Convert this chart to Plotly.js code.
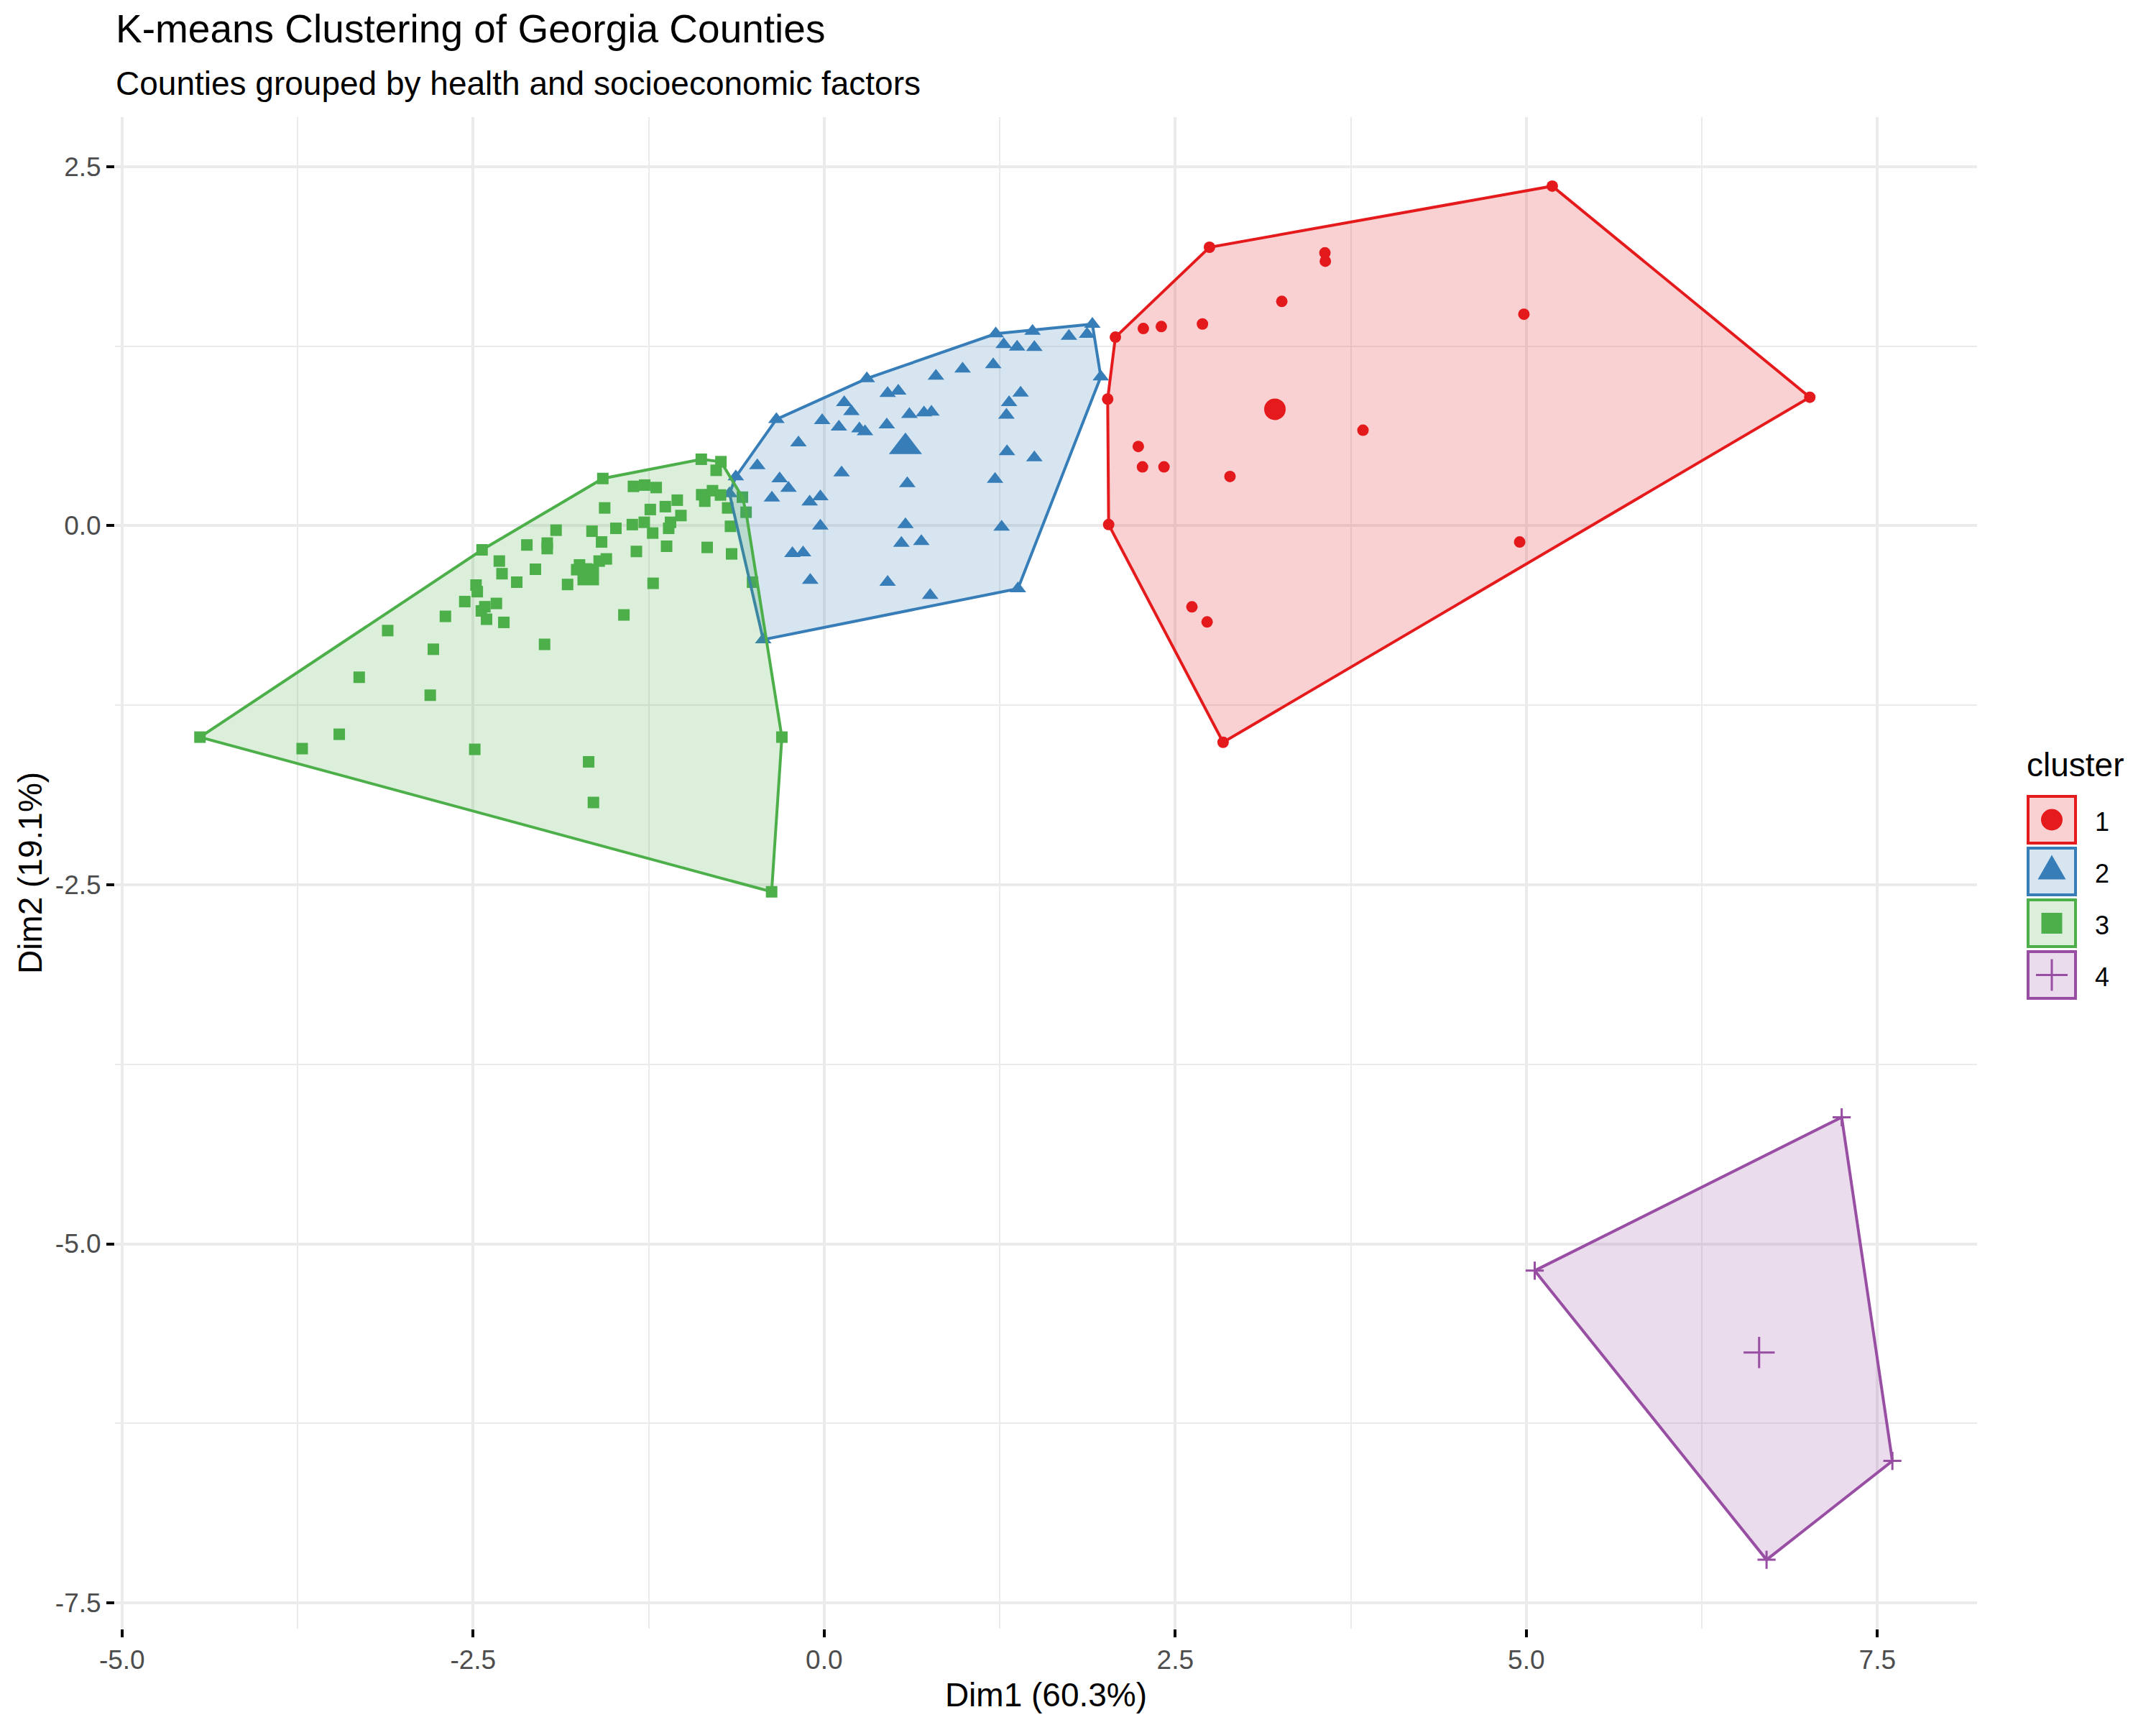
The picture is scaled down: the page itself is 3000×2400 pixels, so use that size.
<!DOCTYPE html>
<html>
<head>
<meta charset="utf-8">
<script src="https://cdn.plot.ly/plotly-3.0.1.min.js"></script>
<style>html,body{margin:0;padding:0;background:#fff}</style>
</head>
<body>
<div id="chart" style="width:3000px;height:2400px"></div>
<script>
// ---------------- DATA ----------------
const clusterNames = ["1", "2", "3", "4"];
const clusterColors = ["#E41A1C", "#377EB8", "#4DAF4A", "#984EA3"];
const clusterFills = ["rgba(228,26,28,0.2)", "rgba(55,126,184,0.2)", "rgba(77,175,74,0.2)", "rgba(152,78,163,0.2)"];

const c1x = [5.185, 2.744, 2.074, 2.019, 2.026, 2.841, 7.019, 3.566, 3.569, 3.259, 4.983, 2.273, 2.401, 2.694, 3.837, 2.237, 2.267, 2.420, 2.890, 4.953, 2.619, 2.727];
const c1y = [2.365, 1.939, 1.313, 0.882, 0.008, -1.508, 0.895, 1.900, 1.842, 1.562, 1.473, 1.373, 1.387, 1.405, 0.665, 0.552, 0.410, 0.410, 0.343, -0.113, -0.565, -0.670];

const c2x = [-0.629, -0.340, 0.304, 1.222, 1.484, 1.910, 1.970, 1.380, -0.434, -0.674,
             1.743, 1.872, 1.279, 1.374, 1.497, 1.204, 0.986, 0.796, 1.399, 1.317,
             1.298, 0.452, 0.528, 0.143, 0.194, -0.014, 0.105, 0.251, 0.291, 0.446,
             0.607, 0.711, 0.764, -0.183, -0.476, -0.317, -0.254, -0.372, -0.103, -0.027,
             0.124, 0.592, 1.302, 1.497, 1.217, -0.027, 0.579, 1.264, 0.550, 0.692,
             -0.226, -0.150, -0.099, 0.452, 0.755];
const c2y = [0.341, 0.741, 1.025, 1.337, 1.355, 1.404, 1.037, -0.438, -0.793, 0.224,
             1.320, 1.334, 1.262, 1.245, 1.242, 1.122, 1.092, 1.042, 0.925, 0.858,
             0.770, 0.922, 0.938, 0.858, 0.795, 0.733, 0.688, 0.675, 0.655, 0.703,
             0.775, 0.787, 0.792, 0.578, 0.419, 0.328, 0.261, 0.194, 0.166, 0.203,
             0.369, 0.294, 0.516, 0.474, 0.324, -0.001, 0.008, -0.009, -0.121, -0.109,
             -0.193, -0.188, -0.379, -0.393, -0.484];

const c3x = [-2.436, -1.576, -0.875, -0.735, -0.769, -1.358, -1.278, -1.196, -1.563, -1.238,
             -1.131, -1.046, -1.020, -1.094, -1.107, -1.221, -1.366, -1.281, -1.483, -1.653,
             -1.585, -1.909, -2.117, -1.972, -1.972, -2.313, -2.294, -2.056, -2.189, -2.479,
             -2.470, -2.559, -2.697, -2.416, -2.441, -2.334, -2.404, -2.281, -2.783, -1.991,
             -1.827, -1.742, -1.762, -1.691, -1.648, -1.713, -1.602, -1.551, -1.337, -1.122,
             -1.218, -1.426, -0.833, -0.659, -0.872, -0.850, -0.795, -0.738, -0.687, -0.667,
             -0.582, -0.556, -0.510, -3.108, -3.311, -2.805, -4.445, -3.453, -3.717, -2.488,
             -1.677, -1.643, -0.301, -0.374];
const c3y = [-0.168, 0.329, 0.463, 0.446, 0.386, 0.274, 0.283, 0.266, 0.124, 0.113,
             0.133, 0.178, 0.071, 0.024, -0.018, -0.051, 0.008, 0.024, -0.018, -0.038,
             -0.113, -0.031, -0.134, -0.121, -0.159, -0.246, -0.334, -0.303, -0.393, -0.413,
             -0.459, -0.528, -0.631, -0.564, -0.593, -0.541, -0.651, -0.673, -0.860, -0.826,
             -0.409, -0.273, -0.306, -0.301, -0.359, -0.364, -0.246, -0.231, -0.179, -0.143,
             -0.401, -0.621, -0.151, -0.196, 0.216, 0.171, 0.244, 0.214, 0.124, -0.004,
             0.199, 0.094, -0.393, -0.730, -1.055, -1.180, -1.472, -1.452, -1.552, -1.557,
             -1.644, -1.927, -1.472, -2.549];

const c4x = [7.246, 5.060, 7.607, 6.711];
const c4y = [-4.119, -5.187, -6.512, -7.200];

const centroidX = [3.210, 0.579, -1.680, 6.658];
const centroidY = [0.811, 0.549, -0.340, -5.757];

const xTickVals = [-5, -2.5, 0, 2.5, 5, 7.5];
const xTickText = ["-5.0", "-2.5", "0.0", "2.5", "5.0", "7.5"];
const yTickVals = [-7.5, -5, -2.5, 0, 2.5];
const yTickText = ["-7.5", "-5.0", "-2.5", "0.0", "2.5"];

const titleText = "K-means Clustering of Georgia Counties";
const subtitleText = "Counties grouped by health and socioeconomic factors";
const xTitle = "Dim1 (60.3%)";
const yTitle = "Dim2 (19.1%)";
const legendTitle = "cluster";

// ---------------- STYLE ----------------
const FONT = "Liberation Sans, Arial, Helvetica, sans-serif";
const W = 3000, H = 2400, ML = 160, MR = 249, MT = 163, MB = 134;
const PW = W - ML - MR, PH = H - MT - MB;
const pX = X => (X - ML) / PW;
const pY = Y => (H - MB - Y) / PH;

const symbols = ["circle", "triangle-up", "square", "cross-thin-open"];
const pointSizes = [16, 20, 16, 18];
const centroidSizes = [30, 40, 30, 31];

const xs = [c1x, c2x, c3x, c4x];
const ys = [c1y, c2y, c3y, c4y];

function convexHull(px, py) {
  const pts = px.map((x, i) => [x, py[i]]).sort((a, b) => a[0] - b[0] || a[1] - b[1]);
  const cross = (o, a, b) => (a[0] - o[0]) * (b[1] - o[1]) - (a[1] - o[1]) * (b[0] - o[0]);
  const lower = [];
  for (const p of pts) {
    while (lower.length >= 2 && cross(lower[lower.length - 2], lower[lower.length - 1], p) <= 0) lower.pop();
    lower.push(p);
  }
  const upper = [];
  for (let i = pts.length - 1; i >= 0; i--) {
    const p = pts[i];
    while (upper.length >= 2 && cross(upper[upper.length - 2], upper[upper.length - 1], p) <= 0) upper.pop();
    upper.push(p);
  }
  upper.pop(); lower.pop();
  const h = lower.concat(upper);
  h.push(h[0]);
  return h;
}

function markerFor(k, size) {
  const m = {symbol: symbols[k], size: size, color: clusterColors[k], line: {width: 0}};
  if (k === 3) m.line = {width: 3, color: clusterColors[k]};
  return m;
}

const traces = [];
// points
for (let k = 0; k < 4; k++) {
  traces.push({type: "scatter", mode: "markers", x: xs[k], y: ys[k], name: clusterNames[k],
    marker: markerFor(k, pointSizes[k]), showlegend: false, hoverinfo: "x+y"});
}
// hulls
for (let k = 0; k < 4; k++) {
  const h = convexHull(xs[k], ys[k]);
  traces.push({type: "scatter", mode: "lines", x: h.map(p => p[0]), y: h.map(p => p[1]),
    fill: "toself", fillcolor: clusterFills[k], line: {color: clusterColors[k], width: 4},
    showlegend: false, hoverinfo: "skip"});
}
// centroids
for (let k = 0; k < 4; k++) {
  traces.push({type: "scatter", mode: "markers", x: [centroidX[k]], y: [centroidY[k]],
    marker: markerFor(k, centroidSizes[k]), showlegend: false, hoverinfo: "x+y"});
}

// ---------------- custom legend (ggplot style) ----------------
const shapes = [];
const annotations = [];
const rowTops = [1106, 1178, 1250, 1322];
const keyL = 2820, keyR = 2890, keyH = 69;
for (let k = 0; k < 4; k++) {
  const t = rowTops[k], b = t + keyH, cx = (keyL + keyR) / 2, cy = t + keyH / 2;
  shapes.push({type: "rect", xref: "paper", yref: "paper", x0: pX(keyL + 2), x1: pX(keyR - 2), y0: pY(b - 2), y1: pY(t + 2),
    fillcolor: clusterFills[k], line: {color: clusterColors[k], width: 4}});
  if (k === 0) {
    shapes.push({type: "circle", xref: "paper", yref: "paper", x0: pX(cx - 15), x1: pX(cx + 15), y0: pY(cy + 15), y1: pY(cy - 15),
      fillcolor: clusterColors[k], line: {width: 0}});
  } else if (k === 1) {
    const path = `M ${pX(cx - 19.5)} ${pY(cy + 11)} L ${pX(cx + 19.5)} ${pY(cy + 11)} L ${pX(cx)} ${pY(cy - 23)} Z`;
    shapes.push({type: "path", xref: "paper", yref: "paper", path: path, fillcolor: clusterColors[k], line: {width: 0}});
  } else if (k === 2) {
    shapes.push({type: "rect", xref: "paper", yref: "paper", x0: pX(cx - 14.5), x1: pX(cx + 14.5), y0: pY(cy + 14.5), y1: pY(cy - 14.5),
      fillcolor: clusterColors[k], line: {width: 0}});
  } else {
    const path = `M ${pX(cx - 22)} ${pY(cy)} L ${pX(cx + 22)} ${pY(cy)} M ${pX(cx)} ${pY(cy - 22)} L ${pX(cx)} ${pY(cy + 22)}`;
    shapes.push({type: "path", xref: "paper", yref: "paper", path: path, line: {color: clusterColors[k], width: 3}});
  }
  annotations.push({text: clusterNames[k], xref: "paper", yref: "paper", x: pX(2913), y: pY(cy + 3),
    xanchor: "left", yanchor: "middle", showarrow: false, font: {family: FONT, size: 36, color: "#000"}});
}
annotations.push({text: legendTitle, xref: "paper", yref: "paper", x: pX(2818), y: pY(1064),
  xanchor: "left", yanchor: "middle", showarrow: false, font: {family: FONT, size: 46, color: "#000"}});
annotations.push({text: subtitleText, xref: "paper", yref: "paper", x: pX(159), y: pY(116),
  xanchor: "left", yanchor: "middle", showarrow: false, font: {family: FONT, size: 46, color: "#000"}});

const axisCommon = {
  ticks: "outside", ticklen: 11, tickwidth: 4, tickcolor: "#000",
  showgrid: true, gridcolor: "#EBEBEB", gridwidth: 4,
  zeroline: false, showline: false, automargin: false,
  tickfont: {family: FONT, size: 37, color: "#4D4D4D"},
  tickmode: "array"
};

const layout = {
  width: W, height: H,
  margin: {l: ML, r: MR, t: MT, b: MB, pad: 0},
  paper_bgcolor: "#fff", plot_bgcolor: "#fff",
  font: {family: FONT, color: "#000"},
  showlegend: false,
  title: {text: titleText, xref: "container", yref: "container", x: 161 / W, xanchor: "left",
    y: 1 - 40 / H, yanchor: "middle", font: {family: FONT, size: 55, color: "#000"}},
  xaxis: Object.assign({}, axisCommon, {
    range: [-5.05, 8.21], tickvals: xTickVals, ticktext: xTickText,
    minor: {tickmode: "linear", tick0: 0, dtick: 1.25, showgrid: true, gridcolor: "#EBEBEB", gridwidth: 2, ticks: ""},
    title: {text: xTitle, font: {family: FONT, size: 46, color: "#000"}, standoff: 12}
  }),
  yaxis: Object.assign({}, axisCommon, {
    range: [-7.68, 2.845], tickvals: yTickVals, ticktext: yTickText,
    minor: {tickmode: "linear", tick0: 0, dtick: 1.25, showgrid: true, gridcolor: "#EBEBEB", gridwidth: 2, ticks: ""},
    title: {text: yTitle, font: {family: FONT, size: 46, color: "#000"}, standoff: 3}
  }),
  shapes: shapes,
  annotations: annotations
};

Plotly.newPlot("chart", traces, layout, {staticPlot: true, displayModeBar: false});
</script>
</body>
</html>
